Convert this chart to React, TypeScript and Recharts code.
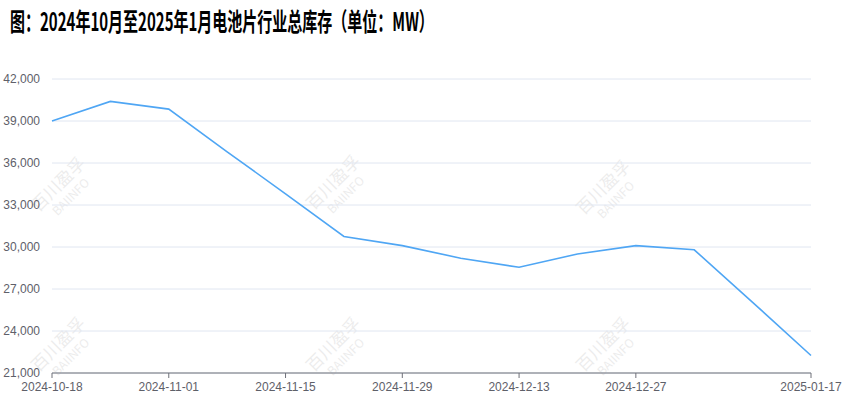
import { LineChart, Line, XAxis, YAxis, CartesianGrid } from "recharts";

const dates = [
  "2024-10-18", "2024-10-25", "2024-11-01", "2024-11-08", "2024-11-15", "2024-11-22", "2024-11-29",
  "2024-12-06", "2024-12-13", "2024-12-20", "2024-12-27", "2025-01-03", "2025-01-10", "2025-01-17",
];
const inventory = [
  39000, 40400, 39850, 36800, 33800, 30750, 30100,
  29200, 28550, 29500, 30100, 29800, 26050, 22250,
];
const shownDates = ["2024-10-18", "2024-11-01", "2024-11-15", "2024-11-29", "2024-12-13", "2024-12-27", "2025-01-17"];
const yTicks = [21000, 24000, 27000, 30000, 33000, 36000, 39000, 42000];
const title = "图：2024年10月至2025年1月电池片行业总库存（单位：MW）";

const data = dates.map((d, i) => ({ date: d, value: inventory[i] }));

const marks = [
  { left: 30, top: 172 }, { left: 305, top: 170 }, { left: 575, top: 175 },
  { left: 30, top: 332 }, { left: 305, top: 332 }, { left: 575, top: 332 },
];

// eslint-disable-next-line @typescript-eslint/no-explicit-any
const DateTick = (props: any) => {
  const { x, y, payload } = props;
  if (!shownDates.includes(payload.value)) return null;
  return (
    <g>
      <line x1={x} y1={y - 8} x2={x} y2={y - 3} stroke="#6E7079" />
      <text x={x} y={y + 10} textAnchor="middle" fill="#5E6069" fontSize={12}>{payload.value}</text>
    </g>
  );
};

export default function App() {
  return (
    <div style={{ position: "absolute", left: 0, top: 0, width: 848, height: 396, background: "#fff", fontFamily: "'Liberation Sans', Arial, sans-serif" }}>
      <div style={{
        position: "absolute", left: 10, top: 2, whiteSpace: "nowrap",
        fontFamily: "'Noto Sans CJK SC', sans-serif", fontWeight: 700, fontSize: 25, color: "#000",
        transform: "scaleX(0.6)", transformOrigin: "left top",
      }}>{title}</div>
      {marks.map((m, i) => (
        <div key={i} style={{
          position: "absolute", left: m.left, top: m.top, color: "#000", opacity: 0.07,
          transform: "rotate(-45deg)", fontSize: 17, lineHeight: "18px", textAlign: "center",
          fontFamily: "'Noto Sans CJK SC', sans-serif",
        }}>
          <div>百川盈孚</div>
          <div style={{ fontSize: 12 }}>BAIINFO</div>
        </div>
      ))}
      <LineChart width={848} height={396} data={data} margin={{ top: 79, right: 37, bottom: 3, left: 0 }}>
        <CartesianGrid vertical={false} stroke="#E0E6F1" />
        <XAxis
          dataKey="date" interval={0} tick={<DateTick />} tickLine={false}
          axisLine={{ stroke: "#6E7079" }} height={20}
        />
        <YAxis
          width={52} domain={[21000, 42000]} ticks={yTicks} axisLine={false} tickLine={false}
          tick={{ fill: "#5E6069", fontSize: 12 }} tickMargin={6}
          tickFormatter={(v: number) => v.toLocaleString("en-US")}
        />
        <Line type="linear" dataKey="value" stroke="#4FA6F4" strokeWidth={1.6} dot={false} isAnimationActive={false} />
      </LineChart>
    </div>
  );
}
